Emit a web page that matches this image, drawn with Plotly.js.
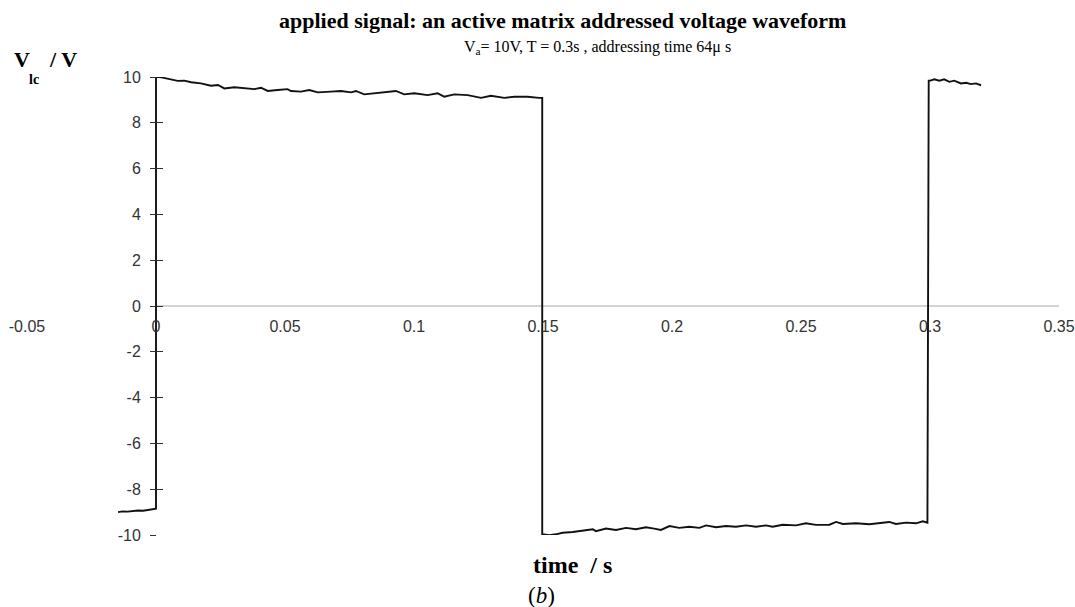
<!DOCTYPE html>
<html>
<head>
<meta charset="utf-8">
<script src="https://cdn.plot.ly/plotly-3.0.1.min.js"></script>
<style>html,body{margin:0;padding:0;background:#fff;}#chart{width:1075px;height:607px;}</style>
</head>
<body>
<div id="chart"></div>
<script>
// Time (s) and liquid-crystal voltage (V)
var tBefore = [-0.0147, -0.013, -0.011, -0.009, -0.007, -0.005, -0.003, -0.001, 0.0];
var vBefore = [-9.00, -8.97, -8.98, -8.95, -8.93, -8.94, -8.90, -8.88, -8.85];

var tFirstHalf = [0.0, 0.0007, 0.0026, 0.0058, 0.0084, 0.0110, 0.0136, 0.0174, 0.0213, 0.0240, 0.0265,
  0.0304, 0.0343, 0.0381, 0.0407, 0.0433, 0.0471, 0.0510, 0.0523, 0.0562, 0.0594, 0.0627, 0.0678,
  0.0717, 0.0756, 0.0775, 0.0807, 0.0859, 0.0897, 0.0930, 0.0962, 0.1001, 0.1053, 0.1091, 0.1117,
  0.1156, 0.1208, 0.1260, 0.1298, 0.1350, 0.1389, 0.1440, 0.1485, 0.1497];
var vFirstHalf = [10.0, 10.01, 9.97, 9.91, 9.83, 9.84, 9.77, 9.72, 9.62, 9.65, 9.50,
  9.55, 9.50, 9.47, 9.53, 9.39, 9.43, 9.47, 9.39, 9.36, 9.43, 9.33, 9.36,
  9.39, 9.33, 9.39, 9.24, 9.29, 9.33, 9.39, 9.24, 9.29, 9.21, 9.29, 9.14,
  9.24, 9.21, 9.09, 9.18, 9.09, 9.14, 9.14, 9.09, 9.09];

var tSecondHalf = [0.1497, 0.1525, 0.1550, 0.1576, 0.1615, 0.1641, 0.1693, 0.1705, 0.1744, 0.1783,
  0.1822, 0.1860, 0.1899, 0.1931, 0.1957, 0.1990, 0.2028, 0.2067, 0.2106, 0.2132, 0.2171, 0.2209,
  0.2248, 0.2287, 0.2326, 0.2364, 0.2390, 0.2429, 0.2481, 0.2519, 0.2558, 0.2610, 0.2636, 0.2662,
  0.2713, 0.2765, 0.2817, 0.2842, 0.2868, 0.2907, 0.2946, 0.2972, 0.2990];
var vSecondHalf = [-9.97, -10.01, -9.97, -9.90, -9.87, -9.83, -9.75, -9.83, -9.72, -9.78,
  -9.69, -9.75, -9.66, -9.72, -9.78, -9.61, -9.69, -9.64, -9.69, -9.58, -9.66, -9.61,
  -9.64, -9.58, -9.64, -9.58, -9.64, -9.55, -9.58, -9.49, -9.56, -9.55, -9.43, -9.52,
  -9.49, -9.53, -9.46, -9.43, -9.52, -9.46, -9.49, -9.40, -9.46];

var tNextPeriod = [0.2995, 0.3001, 0.3017, 0.3036, 0.3055, 0.3075, 0.3094, 0.3120, 0.3140, 0.3159, 0.3178, 0.3198];
var vNextPeriod = [9.84, 9.84, 9.90, 9.84, 9.90, 9.79, 9.84, 9.72, 9.75, 9.69, 9.72, 9.64];

var xTickVals = [-0.05, 0, 0.05, 0.1, 0.15, 0.2, 0.25, 0.3, 0.35];
var xTickText = ["-0.05", "0", "0.05", "0.1", "0.15", "0.2", "0.25", "0.3", "0.35"];
var yTickVals = [-10, -8, -6, -4, -2, 0, 2, 4, 6, 8, 10];
var yTickText = ["-10", "-8", "-6", "-4", "-2", "0", "2", "4", "6", "8", "10"];

var tAll = tBefore.concat(tFirstHalf, tSecondHalf, tNextPeriod);
var vAll = vBefore.concat(vFirstHalf, vSecondHalf, vNextPeriod);

var tickFont = {family: "Liberation Sans, Arial, sans-serif", size: 16, color: "#333"};
var serif = "Liberation Serif, Times New Roman, serif";

var traces = [
  {x: tAll, y: vAll, type: "scatter", mode: "lines",
   line: {color: "#111", width: 1.9}, hoverinfo: "skip", showlegend: false},
  {x: [0], y: [0], type: "scatter", mode: "none", yaxis: "y2", showlegend: false, hoverinfo: "skip"}
];

var layout = {
  width: 1075, height: 607,
  margin: {l: 27, r: 16, t: 77, b: 72, pad: 0},
  paper_bgcolor: "#fff", plot_bgcolor: "#fff",
  showlegend: false,
  title: {
    text: "<b>applied signal: an active matrix addressed voltage waveform</b>",
    font: {family: serif, size: 22, color: "#000"},
    x: 558 / 1075, xanchor: "center", xref: "paper",
    y: 1 - 20 / 607, yanchor: "middle", yref: "container"
  },
  xaxis: {
    range: [-0.05, 0.35],
    anchor: "free", position: 0.5,
    showline: false, showgrid: false, zeroline: false,
    ticks: "", tickvals: xTickVals, ticktext: xTickText,
    tickfont: tickFont, ticklabelstandoff: 9
  },
  yaxis: {
    range: [-10, 10],
    anchor: "free", position: 0.125,
    showline: false, showgrid: false, zeroline: false,
    ticks: "outside", ticklen: 6, tickwidth: 1, tickcolor: "#333",
    tickvals: yTickVals, ticktext: yTickText,
    tickfont: tickFont, ticklabelstandoff: 6
  },
  yaxis2: {
    overlaying: "y", matches: "y", range: [-10, 10],
    anchor: "free", position: 0.125, side: "left",
    showline: false, showgrid: false, zeroline: false,
    ticks: "inside", ticklen: 6, tickwidth: 1, tickcolor: "#333",
    tickvals: yTickVals.filter(function (v) { return v < 10; }),
    showticklabels: false
  },
  shapes: [
    {type: "line", xref: "x", yref: "y",
     x0: xTickVals[1], x1: xTickVals[xTickVals.length - 1], y0: 0, y1: 0,
     line: {color: "#a8a8a8", width: 1}, layer: "below"}
  ],
  annotations: [
    {text: "V<sub>a</sub>= 10V, T = 0.3s , addressing time 64\u03bc s",
     xref: "paper", yref: "paper", x: (597 - 27) / 1032, y: (535 - 48) / 458,
     xanchor: "center", yanchor: "middle", showarrow: false,
     font: {family: serif, size: 16, color: "#000"}},
    {text: "<b>V</b>",
     xref: "paper", yref: "paper", x: (12 - 27) / 1032, y: (535 - 60) / 458,
     xanchor: "left", yanchor: "middle", showarrow: false,
     font: {family: serif, size: 22, color: "#000"}},
    {text: "<b>lc</b>",
     xref: "paper", yref: "paper", x: (27 - 27) / 1032, y: (535 - 80) / 458,
     xanchor: "left", yanchor: "middle", showarrow: false,
     font: {family: serif, size: 14, color: "#000"}},
    {text: "<b>/ V</b>",
     xref: "paper", yref: "paper", x: (47 - 27) / 1032, y: (535 - 60) / 458,
     xanchor: "left", yanchor: "middle", showarrow: false,
     font: {family: serif, size: 22, color: "#000"}},
    {text: "<b>time  / s</b>",
     xref: "paper", yref: "paper", x: (572 - 27) / 1032, y: (535 - 565) / 458,
     xanchor: "center", yanchor: "middle", showarrow: false,
     font: {family: serif, size: 24, color: "#000"}},
    {text: "(<i>b</i>)",
     xref: "paper", yref: "paper", x: (541 - 27) / 1032, y: (535 - 595) / 458,
     xanchor: "center", yanchor: "middle", showarrow: false,
     font: {family: serif, size: 23, color: "#000"}}
  ]
};

Plotly.newPlot("chart", traces, layout, {staticPlot: true, displayModeBar: false});
</script>
</body>
</html>
